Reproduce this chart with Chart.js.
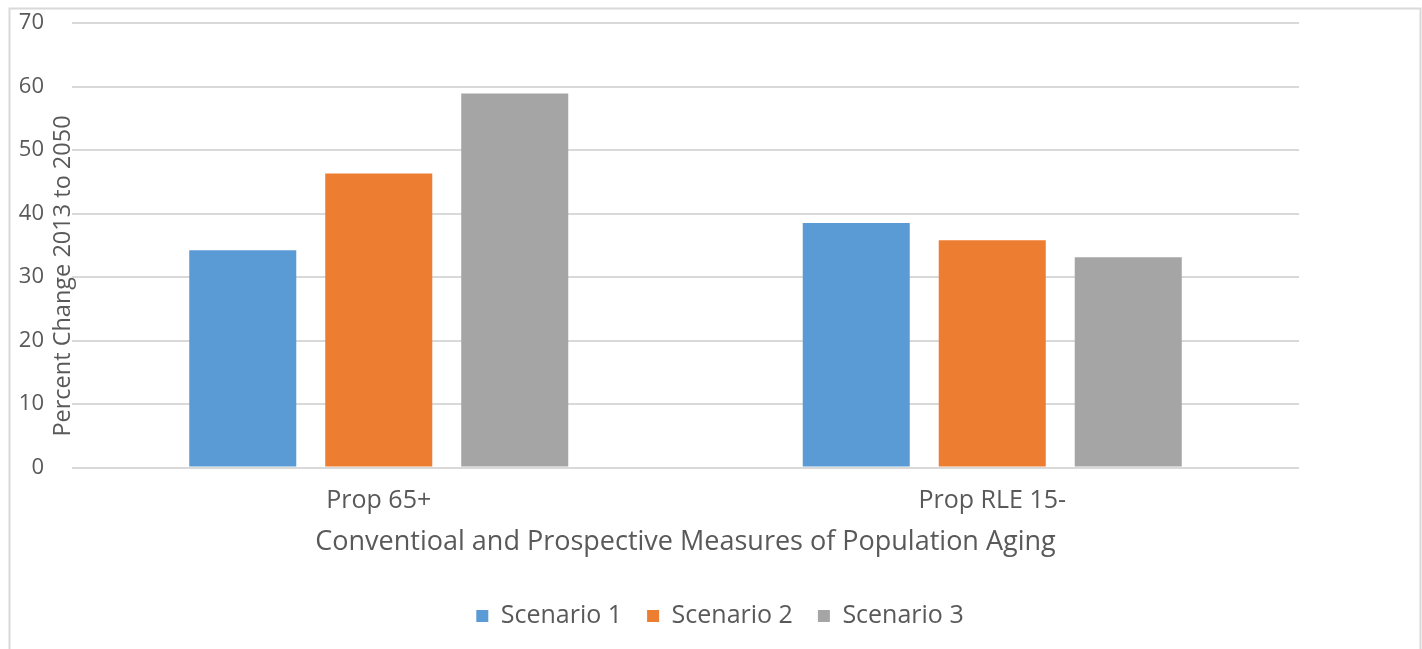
<!DOCTYPE html>
<html>
<head>
<meta charset="utf-8">
<title>Conventional and Prospective Measures of Population Aging</title>
<script src="https://cdn.jsdelivr.net/npm/chart.js@4/dist/chart.umd.min.js"></script>
<style>
  html, body { margin: 0; padding: 0; background: #ffffff; }
  #wrap { position: relative; width: 1422px; height: 649px; }
</style>
</head>
<body>
<div id="wrap"><canvas id="chart" width="1422" height="649"></canvas></div>
<script>
// Categories and series (percent change 2013 to 2050)
const categories = ['Prop 65+', 'Prop RLE 15-'];
const seriesNames = ['Scenario 1', 'Scenario 2', 'Scenario 3'];
const scenario1 = [34.2, 38.5];
const scenario2 = [46.3, 35.8];
const scenario3 = [58.9, 33.1];
const yTicks = [0, 10, 20, 30, 40, 50, 60, 70];
const xTitle = 'Conventioal and Prospective Measures of Population Aging';
const yTitle = 'Percent Change 2013 to 2050';

const colors = ['#5B9BD5', '#ED7D31', '#A5A5A5'];
const textColor = '#595959';
const gridColor = '#D9D9D9';
const fontFamily = '"Open Sans", sans-serif';

// Light outer frame around the chart
const framePlugin = {
  id: 'frame',
  beforeDraw(chart) {
    const ctx = chart.ctx;
    ctx.save();
    ctx.fillStyle = '#ffffff';
    ctx.fillRect(0, 0, chart.width, chart.height);
    ctx.strokeStyle = '#D9D9D9';
    ctx.lineWidth = 2;
    ctx.strokeRect(9.5, 8.5, 1411, 700);
    ctx.restore();
  }
};

// Rotated value-axis title, sitting over the tick label gutter
const yTitlePlugin = {
  id: 'yTitle',
  afterDraw(chart) {
    const ctx = chart.ctx;
    ctx.save();
    ctx.translate(63, 276);
    ctx.rotate(-Math.PI / 2);
    ctx.font = '23.5px ' + fontFamily;
    ctx.fillStyle = textColor;
    ctx.textAlign = 'center';
    ctx.textBaseline = 'middle';
    ctx.fillText(yTitle, 0, 0);
    ctx.restore();
  }
};

const data = {
  labels: categories,
  datasets: [scenario1, scenario2, scenario3].map((vals, i) => ({
    label: seriesNames[i],
    data: vals,
    backgroundColor: colors[i],
    borderWidth: 0,
    categoryPercentage: 0.665,
    barPercentage: 0.787
  }))
};

new Chart(document.getElementById('chart'), {
  type: 'bar',
  data,
  plugins: [framePlugin, yTitlePlugin],
  options: {
    responsive: false,
    animation: false,
    devicePixelRatio: 1,
    layout: { padding: { top: 23, left: 18, right: 0, bottom: 10.5 } },
    plugins: {
      tooltip: { enabled: false },
      legend: {
        position: 'bottom',
        labels: {
          font: { family: fontFamily, size: 25 },
          color: textColor,
          boxWidth: 12,
          boxHeight: 12,
          padding: 25
        }
      }
    },
    scales: {
      x: {
        grid: { display: false },
        border: { display: false },
        ticks: {
          color: textColor,
          font: { family: fontFamily, size: 25 },
          padding: 10
        },
        title: {
          display: true,
          text: xTitle,
          color: textColor,
          font: { family: fontFamily, size: 27 },
          padding: { top: 0, bottom: 20 }
        },
        afterFit(scale) { scale.height = 111; }
      },
      y: {
        min: 0,
        max: 70,
        afterBuildTicks(scale) { scale.ticks = yTicks.map(v => ({ value: v })); },
        grid: { color: gridColor, lineWidth: 2, drawTicks: false },
        border: { display: false },
        ticks: {
          color: textColor,
          font: { family: fontFamily, size: 22 },
          padding: 28
        },
        afterFit(scale) {
          scale.width = 54;
          scale.paddingTop = 0;
          scale.paddingBottom = 0;
        }
      },
      yRight: {
        position: 'right',
        display: true,
        min: 0,
        max: 70,
        grid: { display: false },
        border: { display: false },
        ticks: { display: false },
        afterFit(scale) {
          scale.width = 123;
          scale.paddingTop = 0;
          scale.paddingBottom = 0;
        }
      }
    }
  }
});
</script>
</body>
</html>
